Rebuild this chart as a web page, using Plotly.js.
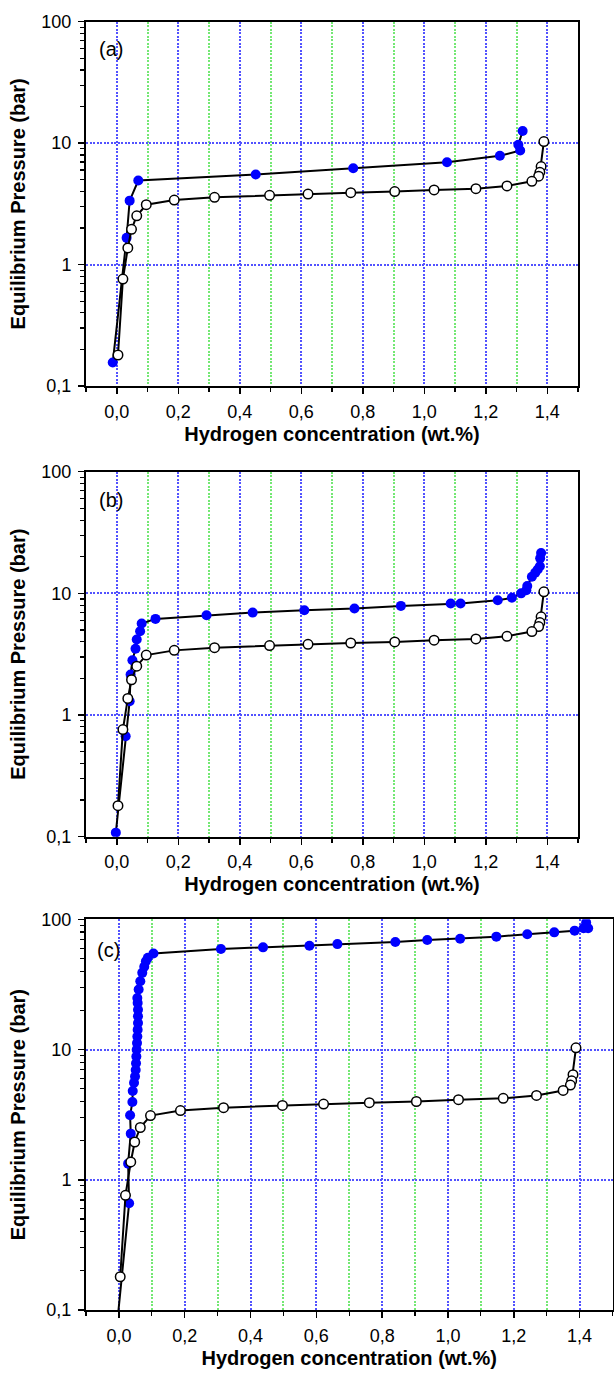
<!DOCTYPE html>
<html>
<head>
<meta charset="utf-8">
<script src="https://cdn.plot.ly/plotly-3.0.1.min.js"></script>
<style>
  html, body { margin: 0; padding: 0; background: #fff; }
  #chart { width: 614px; height: 1375px; }
</style>
</head>
<body>
<div id="chart"></div>
<script>
// ---------------- DATA ----------------
const panelLabels = ['(a)', '(b)', '(c)'];
const xTitle = 'Hydrogen concentration (wt.%)';
const yTitle = 'Equilibrium Pressure (bar)';
const yTickVals = [0.1, 1, 10, 100];
const yTickText = ['0,1', '1', '10', '100'];

// Desorption isotherm (open circles) - identical in all three panels
const desX = [1.389, 1.380, 1.376, 1.372, 1.350, 1.269, 1.168, 1.032, 0.904, 0.761, 0.622, 0.497, 0.318, 0.187, 0.096, 0.065, 0.048, 0.036, 0.020, 0.004];
const desP = [10.3, 6.41, 5.75, 5.34, 4.85, 4.44, 4.22, 4.12, 3.99, 3.91, 3.81, 3.72, 3.58, 3.40, 3.11, 2.52, 1.95, 1.37, 0.76, 0.18];

// Absorption isotherm (filled blue circles), panel (a)
const absAX = [-0.013, 0.032, 0.042, 0.070, 0.452, 0.769, 1.074, 1.246, 1.312, 1.306, 1.320];
const absAP = [0.156, 1.66, 3.36, 4.92, 5.51, 6.21, 6.97, 7.86, 8.69, 9.69, 12.6];

// Absorption isotherm, panel (b)
const absBX = [-0.003, 0.029, 0.042, 0.045, 0.051, 0.061, 0.065, 0.076, 0.081, 0.126, 0.292, 0.442, 0.610, 0.773, 0.924, 1.086, 1.118, 1.239, 1.285, 1.315, 1.332, 1.335, 1.350, 1.361, 1.369, 1.376, 1.377, 1.380];
const absBP = [0.108, 0.67, 1.30, 2.15, 2.82, 3.51, 4.17, 4.89, 5.65, 6.17, 6.61, 6.95, 7.27, 7.50, 7.89, 8.25, 8.25, 8.79, 9.19, 10.0, 10.6, 11.5, 13.7, 14.8, 15.7, 16.7, 19.4, 21.5];

// Absorption isotherm, panel (c)
const absCX = [-0.003, 0.031, 0.028, 0.036, 0.034, 0.041, 0.042, 0.046, 0.049, 0.051, 0.052, 0.053, 0.054, 0.055, 0.056, 0.057, 0.058, 0.058, 0.058, 0.057, 0.056, 0.060, 0.065, 0.071, 0.077, 0.082, 0.088, 0.105, 0.310, 0.438, 0.579, 0.664, 0.840, 0.937, 1.037, 1.147, 1.241, 1.323, 1.385, 1.412, 1.420, 1.426];
const absCP = [0.09, 0.66, 1.33, 2.26, 3.13, 3.95, 4.80, 5.56, 6.20, 6.97, 7.85, 8.83, 9.95, 11.2, 12.6, 14.2, 16.0, 18.0, 20.2, 22.8, 24.9, 28.9, 33.4, 38.8, 43.2, 47.7, 50.6, 54.7, 59.2, 60.9, 62.7, 64.5, 66.9, 69.3, 71.0, 73.6, 76.7, 79.4, 81.8, 85.3, 94.3, 85.3];

// ---------------- LAYOUT ----------------
const W = 614, H = 1375;
const FONT = 'Liberation Sans, Arial, Helvetica, sans-serif';
const BLUE_GRID = '#5252ff';
const GREEN_GRID = '#74e874';
const GRID_DASH = '2px,1.5px';
const GRID_W = 2;
const panels = [
  { top: 21.7,  bottom: 386,    left: 86, right: 578,   label: { x: 110.5, y: 49 } },
  { top: 471.7, bottom: 836.7,  left: 86, right: 578,   label: { x: 110.5, y: 500 } },
  { top: 919.3, bottom: 1310,   left: 86, right: 612.5, label: { x: 108.5, y: 950 } }
];
const absX = [absAX, absBX, absCX];
const absP = [absAP, absBP, absCP];

const minorY = [];
[0.1, 1, 10].forEach(d => { for (let k = 2; k <= 9; k++) minorY.push(+(d * k).toPrecision(3)); });

const layout = {
  width: W, height: H,
  margin: { l: 0, r: 0, t: 0, b: 0 },
  paper_bgcolor: '#fff', plot_bgcolor: '#fff',
  showlegend: false,
  separators: ', ',
  font: { family: FONT, color: '#000', size: 18 },
  annotations: []
};
const traces = [];

panels.forEach((p, i) => {
  const n = i + 1;
  const xs = n === 1 ? '' : String(n);
  const xo = String(n + 3);
  const xd = [p.left / W, p.right / W];
  const yd = [1 - p.bottom / H, 1 - p.top / H];

  layout['xaxis' + xs] = {
    domain: xd, anchor: 'y' + xs, range: [-0.1, 1.5],
    tick0: 0, dtick: 0.2, tickformat: '.1f',
    ticks: 'outside', ticklen: 6, tickwidth: 1.5, tickcolor: '#000',
    ticklabelstandoff: 2,
    tickfont: { family: FONT, size: 18, color: '#000' },
    showline: true, linecolor: '#000', linewidth: 2, mirror: true,
    showgrid: true, gridcolor: BLUE_GRID, griddash: GRID_DASH, gridwidth: GRID_W,
    zeroline: false,
    minor: { tick0: 0, dtick: 0.1, ticks: 'outside', ticklen: 4, tickwidth: 1.2, tickcolor: '#000',
             showgrid: true, gridcolor: GREEN_GRID, griddash: GRID_DASH, gridwidth: GRID_W },
    title: { text: xTitle, font: { family: FONT, size: 20, weight: 700, color: '#000' }, standoff: 6 },
    automargin: false
  };
  layout['yaxis' + xs] = {
    domain: yd, anchor: 'x' + xs, type: 'log', range: [-1, 2],
    tickmode: 'array', tickvals: yTickVals, ticktext: yTickText,
    ticks: 'outside', ticklen: 6, tickwidth: 1.5, tickcolor: '#000',
    ticklabelstandoff: 3,
    tickfont: { family: FONT, size: 18, color: '#000' },
    showline: true, linecolor: '#000', linewidth: 2, mirror: true,
    showgrid: true, gridcolor: BLUE_GRID, griddash: GRID_DASH, gridwidth: GRID_W,
    zeroline: false,
    minor: { tickmode: 'array', tickvals: minorY, ticks: 'outside', ticklen: 4, tickwidth: 1.2, tickcolor: '#000', showgrid: false },
    title: { text: yTitle, font: { family: FONT, size: 20, weight: 700, color: '#000' }, standoff: 10 },
    automargin: false
  };
  // top / right inward ticks
  layout['xaxis' + xo] = {
    overlaying: 'x' + xs, anchor: 'y' + xs, side: 'top', range: [-0.1, 1.5],
    tick0: 0, dtick: 0.2, ticks: 'inside', ticklen: 6, tickwidth: 1.5, tickcolor: '#000',
    showticklabels: false, showgrid: false, zeroline: false, showline: false,
    minor: { tick0: 0, dtick: 0.1, ticks: 'inside', ticklen: 4, tickwidth: 1.2, tickcolor: '#000', showgrid: false }
  };
  layout['yaxis' + xo] = {
    overlaying: 'y' + xs, anchor: 'x' + xs, side: 'right', type: 'log', range: [-1, 2],
    tickmode: 'array', tickvals: yTickVals, ticks: 'inside', ticklen: 6, tickwidth: 1.5, tickcolor: '#000',
    showticklabels: false, showgrid: false, zeroline: false, showline: false,
    minor: { tickmode: 'array', tickvals: minorY, ticks: 'inside', ticklen: 4, tickwidth: 1.2, tickcolor: '#000', showgrid: false }
  };

  traces.push({
    type: 'scatter', mode: 'lines+markers', x: absX[i], y: absP[i],
    xaxis: 'x' + xs, yaxis: 'y' + xs,
    line: { color: '#000', width: 2 },
    marker: { symbol: 'circle', size: 10, color: '#0000ff', line: { width: 0 } },
    hoverinfo: 'skip'
  });
  traces.push({
    type: 'scatter', mode: 'lines+markers', x: desX, y: desP,
    xaxis: 'x' + xs, yaxis: 'y' + xs,
    line: { color: '#000', width: 2 },
    marker: { symbol: 'circle', size: 9.5, color: '#ffffff', line: { color: '#000', width: 1.5 } },
    hoverinfo: 'skip'
  });

  layout.annotations.push({
    xref: 'paper', yref: 'paper', x: p.label.x / W, y: 1 - p.label.y / H,
    xanchor: 'center', yanchor: 'middle', showarrow: false,
    text: panelLabels[i], font: { family: FONT, size: 20, color: '#000' }
  });
});

Plotly.newPlot('chart', traces, layout, { staticPlot: true, displayModeBar: false });
</script>
</body>
</html>
